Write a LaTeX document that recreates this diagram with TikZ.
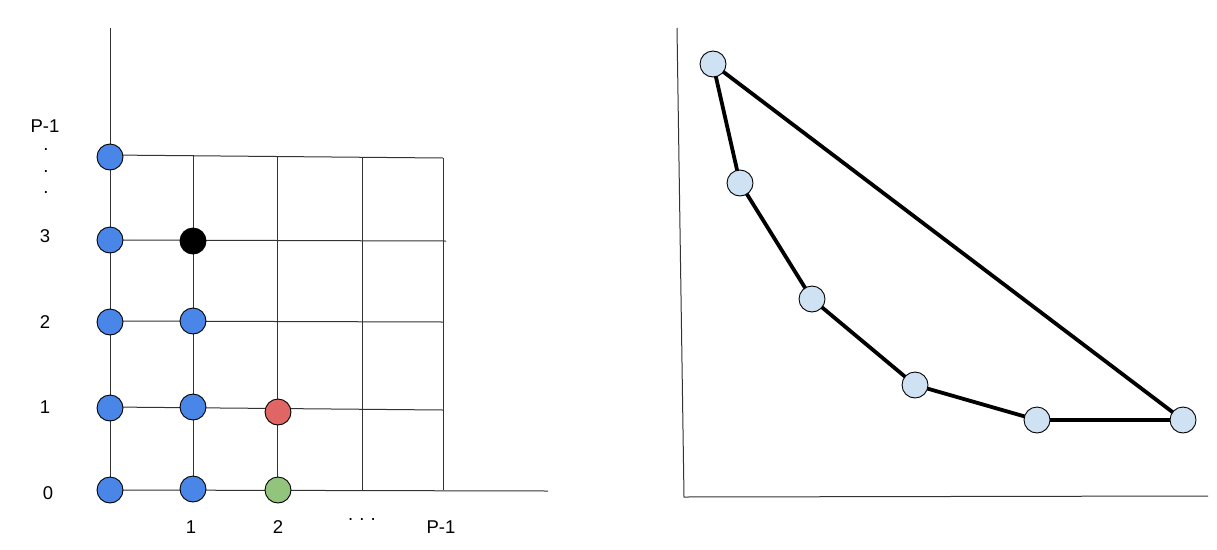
\documentclass[tikz,border=0pt]{standalone}
\usepackage{fontspec}
\setmainfont{Liberation Sans}
\definecolor{gblue}{HTML}{4A86E8}
\definecolor{gred}{HTML}{E06666}
\definecolor{ggreen}{HTML}{93C47D}
\definecolor{lblue}{HTML}{CFE2F3}
\definecolor{gridc}{HTML}{333333}
\begin{document}
\begin{tikzpicture}[x=1pt,y=-1pt,
  gridline/.style={draw=gridc,line width=1pt},
  dot/.style={circle,draw=black,line width=0.9pt,minimum size=26pt,inner sep=0pt},
  hulldot/.style={circle,draw=black,line width=0.9pt,fill=lblue,minimum size=26pt,inner sep=0pt},
  hull/.style={draw=black,line width=3.8pt},
  lbl/.style={font=\fontsize{18.5}{21}\selectfont,inner sep=0pt}]
\useasboundingbox (0,0) rectangle (1217,549);
\fill[white] (0,0) rectangle (1217,549);
% ---------- left grid ----------
\foreach \n/\a/\b/\c/\d in {h0/110/490/548/491, h1/110/407/443/410, h2/110/321/443/322, h3/110/240/446/241, hP/110/155/443/158,
  v0/110/28/110/490, v1/193/155/193/490, v2/277/157/277/490, v3/362/157/362/490, v4/443/158/443/490}{
  \coordinate (\n s) at (\a,\b);
  \coordinate (\n e) at (\c,\d);
  \draw[gridline] (\n s) -- (\n e);
}
% nodes
\node[dot,fill=gblue] (a04) at (110,157) {};
\node[dot,fill=gblue] (a03) at (110,240) {};
\node[dot,fill=gblue] (a02) at (110,322) {};
\node[dot,fill=gblue] (a01) at (110,408) {};
\node[dot,fill=gblue] (a00) at (110,490) {};
\node[dot,fill=black] (a13) at (193,241) {};
\node[dot,fill=gblue] (a12) at (193,321) {};
\node[dot,fill=gblue] (a11) at (193,407) {};
\node[dot,fill=gblue] (a10) at (193,489) {};
\node[dot,fill=gred] (a21) at (278,412) {};
\node[dot,fill=ggreen] (a20) at (278,490) {};
% labels
\node[lbl] (lP) at (45,126) {P-1};
\node[lbl] (ld1) at (46,150) {.};
\node[lbl] (ld2) at (46,172) {.};
\node[lbl] (ld3) at (46,193) {.};
\node[lbl] (l3) at (45,236) {3};
\node[lbl] (l2) at (45,322) {2};
\node[lbl] (l1) at (45,407) {1};
\node[lbl] (l0) at (48,493) {0};
\node[lbl] (b1) at (191,527) {1};
\node[lbl] (b2) at (278,527) {2};
\node[lbl] (bd) at (362,520) {.\,\,.\,\,.};
\node[lbl] (bP) at (441,527) {P-1};
% ---------- right panel ----------
\coordinate (ry0) at (677,28);
\coordinate (rorig) at (684,497);
\coordinate (rx1) at (1208,496);
\draw[gridline] (ry0) -- (rorig) -- (rx1);
\coordinate (p1) at (713,64);
\coordinate (p2) at (740,183);
\coordinate (p3) at (812,299);
\coordinate (p4) at (915,385);
\coordinate (p5) at (1037,420);
\coordinate (p6) at (1183,420);
\draw[hull,line join=miter] (p1) -- (p2) -- (p3) -- (p4) -- (p5) -- (p6) -- cycle;
\node[hulldot] (q1) at (p1) {};
\node[hulldot] (q2) at (p2) {};
\node[hulldot] (q3) at (p3) {};
\node[hulldot] (q4) at (p4) {};
\node[hulldot] (q5) at (p5) {};
\node[hulldot] (q6) at (p6) {};
\end{tikzpicture}
\end{document}
